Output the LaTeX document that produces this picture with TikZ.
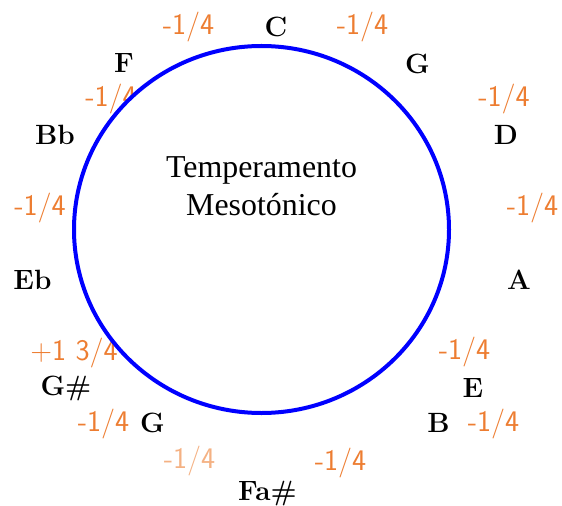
\documentclass[tikz,border=0pt]{standalone}
\usepackage{fontspec}
\newfontfamily\timesfont{Liberation Serif}
\definecolor{tuneorange}{RGB}{237,125,49}
\definecolor{tunelight}{RGB}{244,177,131}
\begin{document}
\begin{tikzpicture}[
  x=1bp, y=-1bp,
  note/.style={inner sep=0pt, font=\fontsize{28}{30}\selectfont\bfseries},
  cents/.style={inner sep=0pt, text=tuneorange, font=\fontsize{30}{32}\selectfont\sffamily},
  paler/.style={cents, text=tunelight},
  title/.style={inner sep=0pt, align=center, font=\fontsize{32}{38}\selectfont\timesfont}]
\useasboundingbox (0,0) rectangle (562,506);
% notes of the circle
\node[note] (noteC) at (276,27) {C};
\node[note] (noteG) at (417.5,63.5) {G};
\node[note] (noteD) at (506,135) {D};
\node[note] (noteA) at (519,280) {A};
\node[note] (noteE) at (473,387.5) {E};
\node[note] (noteB) at (438.5,423) {B};
\node[note] (noteFs) at (267.5,494) {Fa\#};
\node[note] (noteGlow) at (152.5,423) {G};
\node[note] (noteGs) at (66,388) {G\#};
\node[note] (noteEb) at (32.5,280) {Eb};
\node[note] (noteBb) at (55,135) {Bb};
\node[note] (noteF) at (124,63.5) {F};
% deviations
\node[cents] (offFC) at (188.5,27) {-1/4};
\node[cents] (offCG) at (362.5,27) {-1/4};
\node[cents] (offGD) at (504,99) {-1/4};
\node[cents] (offDA) at (532.5,208) {-1/4};
\node[cents] (offAE) at (464.5,352) {-1/4};
\node[cents] (offEB) at (493.5,424) {-1/4};
\node[cents] (offBFs) at (340.5,463) {-1/4};
\node[paler] (offFsG) at (189.5,461) {-1/4};
\node[cents] (offGGs) at (103.5,424) {-1/4};
\node[cents] (offGsEb) at (74,353) {+1 3/4};
\node[cents] (offEbBb) at (40,208) {-1/4};
\node[cents] (offBbF) at (111,99) {-1/4};
% circle and title
\draw[blue, line width=4bp, fill=white] (261.5,229.5) ellipse [x radius=187.5, y radius=183.5];
\node[title] (name) at (261.5,186) {Temperamento\\Mesotónico};
\end{tikzpicture}
\end{document}
